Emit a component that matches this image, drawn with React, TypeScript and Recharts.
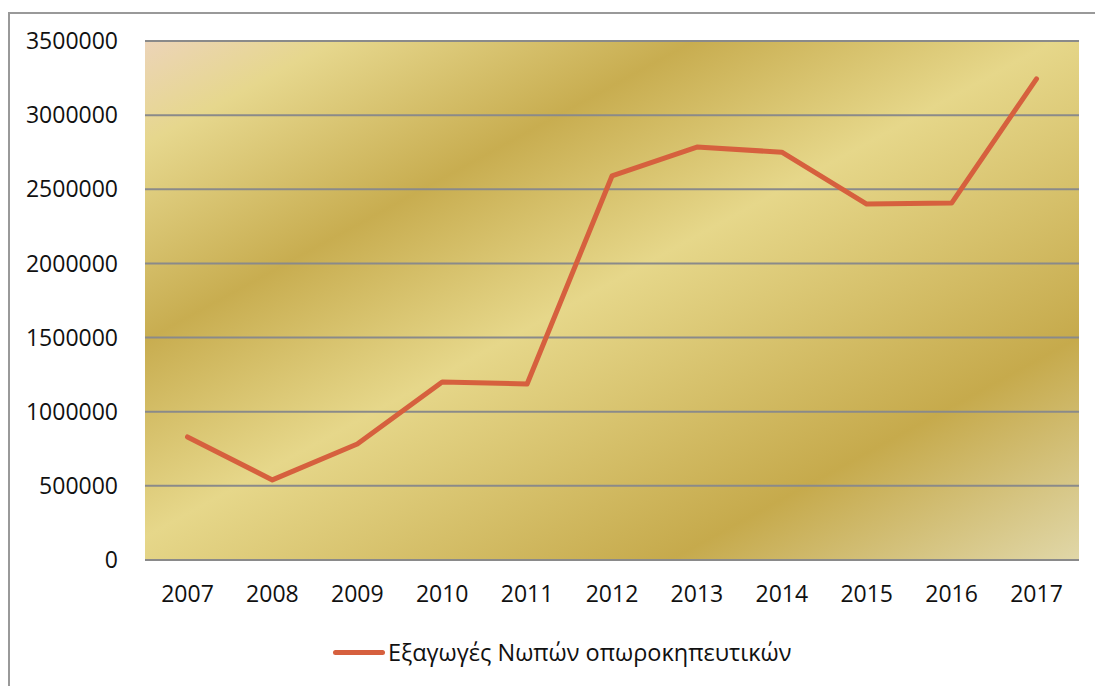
import { LineChart, Line, XAxis, YAxis, CartesianGrid, Legend } from 'recharts';

const years = ['2007', '2008', '2009', '2010', '2011', '2012', '2013', '2014', '2015', '2016', '2017'];
const exportsFresh = [830000, 540000, 782000, 1200000, 1187000, 2590000, 2785000, 2750000, 2400000, 2407000, 3245000];
const yTicks = [0, 500000, 1000000, 1500000, 2000000, 2500000, 3000000, 3500000];
const seriesName = 'Εξαγωγές Νωπών οπωροκηπευτικών';

const data = years.map((year, i) => ({ year, value: exportsFresh[i] }));

const font = "'Open Sans', sans-serif";
const tickStyle = { fontSize: 23, fill: '#111', fontFamily: font };

const LegendContent = () => (
    <div style={{ display: 'flex', alignItems: 'center', fontFamily: font, fontSize: 23.5, color: '#111' }}>
        <div style={{ width: 52, height: 5, borderRadius: 3, background: '#d6603e', marginRight: 3 }} />
        <span>{seriesName}</span>
    </div>
);

export default function App() {
    return (
        <div style={{ position: 'fixed', left: 0, top: 0, width: 1095, height: 686, background: '#fff', overflow: 'hidden' }}>
            <div style={{ position: 'absolute', left: 8, top: 12, width: 1200, height: 800, borderLeft: '2px solid #999', borderTop: '2px solid #999' }} />
            <div style={{ position: 'absolute', left: 0, top: 0 }}>
                <LineChart width={1095} height={686} data={data} margin={{ top: 41, right: 16, left: 0, bottom: 96 }}>
                    <defs>
                        <linearGradient id="goldBg" gradientUnits="userSpaceOnUse" x1={145} y1={41} x2={579} y2={837}>
                            <stop offset="0" stopColor="#ecd4b8" />
                            <stop offset="0.1" stopColor="#e6d78d" />
                            <stop offset="0.29" stopColor="#c8ad50" />
                            <stop offset="0.48" stopColor="#e6d78a" />
                            <stop offset="0.78" stopColor="#c6aa4c" />
                            <stop offset="1" stopColor="#e1d8aa" />
                        </linearGradient>
                    </defs>
                    <CartesianGrid vertical={false} stroke="#8a8a8a" strokeWidth={2} fill="url(#goldBg)" fillOpacity={1} />
                    <XAxis
                        dataKey="year"
                        axisLine={false}
                        tickLine={false}
                        tickSize={0}
                        tickMargin={26}
                        height={30}
                        padding={{ left: 42.5, right: 42.5 }}
                        tick={tickStyle}
                        interval={0}
                    />
                    <YAxis
                        domain={[0, 3500000]}
                        ticks={yTicks}
                        axisLine={false}
                        tickLine={false}
                        tickSize={0}
                        tickMargin={27}
                        width={145}
                        tick={tickStyle}
                        interval={0}
                    />
                    <Legend
                        verticalAlign="middle"
                        align="center"
                        content={<LegendContent />}
                        wrapperStyle={{ left: 333, top: 636, width: 'auto' }}
                    />
                    <Line
                        type="linear"
                        dataKey="value"
                        name={seriesName}
                        stroke="#d6603e"
                        strokeWidth={5}
                        strokeLinejoin="round"
                        strokeLinecap="round"
                        dot={false}
                        activeDot={false}
                        isAnimationActive={false}
                    />
                </LineChart>
            </div>
        </div>
    );
}
